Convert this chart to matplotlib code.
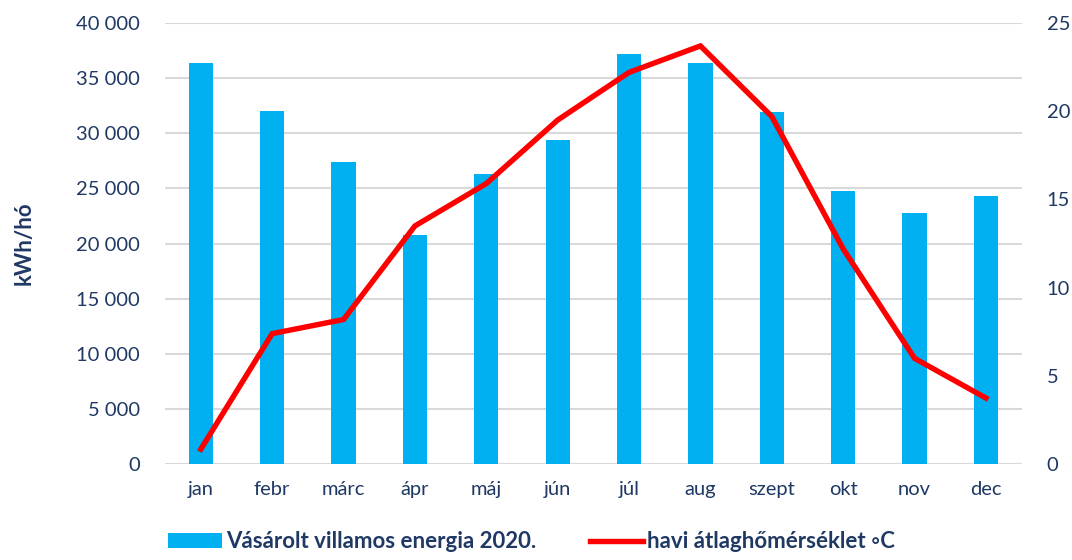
import matplotlib.pyplot as plt
import numpy as np
from matplotlib.ticker import FuncFormatter, MultipleLocator

# data
months = ['jan', 'febr', 'márc', 'ápr', 'máj', 'jún', 'júl', 'aug', 'szept', 'okt', 'nov', 'dec']
energy_kwh = [36400, 32000, 27400, 20800, 26300, 29400, 37200, 36400, 31950, 24750, 22750, 24350]
avg_temp = [0.85, 7.4, 8.2, 13.5, 15.9, 19.5, 22.2, 23.7, 19.7, 12.2, 6.0, 3.75]

bar_label = 'Vásárolt villamos energia 2020.'
line_label = 'havi átlaghőmérséklet ◦C'

NAVY = '#1F3864'
BLUE = '#00B0F0'
RED = '#FF0000'

plt.rcParams['font.family'] = ['Lato', 'DejaVu Sans']

fig = plt.figure(figsize=(10.72, 5.6), dpi=100)
ax = fig.add_axes([0.154, 0.171, 0.799, 0.788])
ax2 = ax.twinx()

x = np.arange(len(months))
bars = ax.bar(x, energy_kwh, width=0.34, color=BLUE, zorder=2, label=bar_label)
line, = ax2.plot(x, avg_temp, color=RED, lw=3.9, zorder=3, label=line_label,
                 solid_joinstyle='miter')

ax.set_xlim(-0.5, len(months) - 0.5)
ax.set_ylim(0, 40000)
ax2.set_ylim(0, 25)
ax.yaxis.set_major_locator(MultipleLocator(5000))
ax2.yaxis.set_major_locator(MultipleLocator(5))
ax.yaxis.set_major_formatter(FuncFormatter(lambda v, p: f'{int(v):,}'.replace(',', ' ')))

ax.grid(axis='y', color='#D9D9D9', lw=1.5, zorder=0)
ax.set_axisbelow(True)
for a in (ax, ax2):
    for s in a.spines.values():
        s.set_visible(False)
    a.tick_params(length=0, labelsize=14.5, labelcolor=NAVY)

ax.set_xticks(x)
ax.set_xticklabels(months)
ax.tick_params(axis='x', pad=12)
ax.tick_params(axis='y', pad=18)
ax2.tick_params(axis='y', pad=18)

ax.set_ylabel('kWh/hó', fontsize=16, fontweight='bold', color=NAVY, labelpad=30)

ax.set_zorder(ax2.get_zorder() - 1)
ax2.patch.set_visible(False)

leg = fig.legend([bars, line], [bar_label, line_label], loc='lower center',
                 bbox_to_anchor=(0.496, -0.022), ncol=2, frameon=False,
                 prop={'size': 16, 'weight': 'bold'}, handlelength=2.4,
                 handletextpad=0.2, columnspacing=2.4)
for t in leg.get_texts():
    t.set_color(NAVY)

fig.savefig('out.png', dpi=100)
